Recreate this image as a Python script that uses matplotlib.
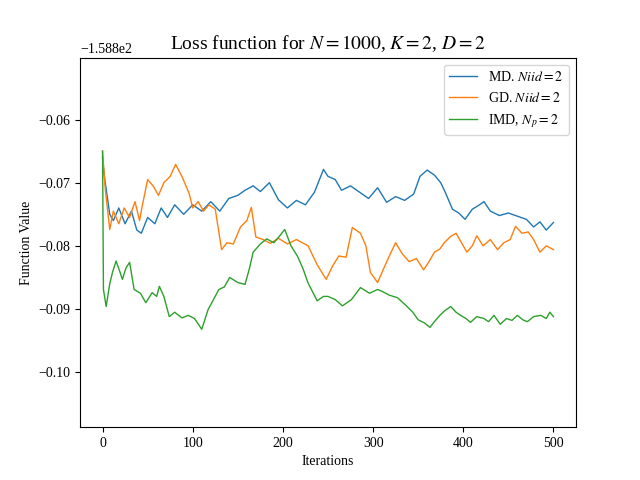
import matplotlib
matplotlib.use('Agg')
import matplotlib.pyplot as plt

OFFSET = -158.8

# iteration / value pairs (value relative to -158.8)
md_it = [0, 2, 5, 8, 12, 18, 25, 32, 38, 43, 50, 58, 65, 72, 80, 90, 100, 110, 120, 130, 140,
         150, 158, 167, 175, 185, 195, 205, 215, 225, 235, 245, 250, 258, 265, 275, 285, 295,
         305, 315, 325, 335, 345, 352, 360, 368, 375, 380, 388, 395, 402, 410, 418, 423, 430,
         440, 450, 460, 470, 478, 485, 492, 500]
md_val = [-0.066, -0.069, -0.072, -0.075, -0.076, -0.074, -0.0765, -0.0745, -0.0775, -0.078,
          -0.0755, -0.0765, -0.074, -0.0755, -0.0735, -0.075, -0.0735, -0.0745, -0.073, -0.0745,
          -0.0725, -0.072, -0.0712, -0.0705, -0.0714, -0.070, -0.0727, -0.074, -0.0728, -0.0735,
          -0.0715, -0.0679, -0.0690, -0.0695, -0.0712, -0.0705, -0.0715, -0.0725, -0.0708, -0.0731,
          -0.0722, -0.0728, -0.0718, -0.0690, -0.0680, -0.0688, -0.0700, -0.0715, -0.0742, -0.0748,
          -0.0758, -0.0742, -0.0735, -0.0730, -0.0745, -0.0752, -0.0748, -0.0753, -0.0758, -0.0770,
          -0.0762, -0.0775, -0.0763]

gd_it = [0, 3, 8, 12, 18, 24, 30, 36, 41, 44, 50, 56, 62, 68, 75, 81, 88, 96, 100, 106, 112,
         118, 125, 132, 138, 145, 153, 160, 165, 170, 178, 186, 195, 205, 215, 228, 238, 248,
         255, 262, 270, 277, 286, 292, 297, 305, 312, 318, 325, 332, 340, 348, 356, 362, 368,
         374, 379, 386, 392, 398, 404, 410, 415, 422, 430, 438, 445, 452, 458, 465, 472, 478,
         485, 492, 500]
gd_val = [-0.065, -0.071, -0.0774, -0.0745, -0.0765, -0.074, -0.0755, -0.073, -0.076, -0.0737,
          -0.0695, -0.0705, -0.072, -0.0700, -0.0690, -0.0671, -0.0690, -0.0717, -0.0740, -0.0730,
          -0.0745, -0.0735, -0.0742, -0.0806, -0.0795, -0.0797, -0.0770, -0.0760, -0.0739, -0.0786,
          -0.0790, -0.0796, -0.0788, -0.0797, -0.0790, -0.0800, -0.0830, -0.0853, -0.0832, -0.0816,
          -0.0818, -0.0771, -0.0780, -0.0800, -0.0842, -0.0858, -0.0835, -0.0816, -0.0795, -0.0812,
          -0.0825, -0.0820, -0.0838, -0.0825, -0.0810, -0.0805, -0.0795, -0.0785, -0.0780, -0.0795,
          -0.0810, -0.0800, -0.0784, -0.0800, -0.0790, -0.0806, -0.0795, -0.0790, -0.0769, -0.0780,
          -0.0778, -0.0790, -0.0810, -0.0800, -0.0806]

imd_it = [0, 1, 4, 8, 11, 15, 19, 22, 26, 30, 35, 42, 48, 55, 60, 63, 68, 74, 80, 88, 95, 102,
          110, 117, 123, 129, 135, 141, 150, 158, 163, 167, 175, 182, 190, 196, 202, 209, 216,
          222, 228, 238, 245, 250, 258, 266, 276, 286, 296, 305, 310, 318, 327, 337, 344, 350,
          357, 363, 368, 374, 380, 386, 392, 397, 403, 408, 415, 423, 428, 434, 441, 448, 454,
          460, 466, 471, 478, 486, 492, 496, 500]
imd_val = [-0.065, -0.0869, -0.0896, -0.0860, -0.0842, -0.0824, -0.0840, -0.0853, -0.0835, -0.0826,
           -0.0869, -0.0875, -0.0890, -0.0874, -0.0880, -0.0864, -0.0880, -0.0912, -0.0905, -0.0914,
           -0.0910, -0.0915, -0.0932, -0.0901, -0.0885, -0.0869, -0.0865, -0.0850, -0.0858, -0.0861,
           -0.0835, -0.0810, -0.0797, -0.0789, -0.0795, -0.0785, -0.0774, -0.0800, -0.0816, -0.0835,
           -0.0859, -0.0887, -0.0880, -0.0880, -0.0885, -0.0895, -0.0885, -0.0866, -0.0875, -0.0869,
           -0.0872, -0.0878, -0.0882, -0.0895, -0.0905, -0.0917, -0.0922, -0.0929, -0.0920, -0.0910,
           -0.0902, -0.0896, -0.0905, -0.0910, -0.0915, -0.0921, -0.0912, -0.0915, -0.0920, -0.0910,
           -0.0924, -0.0915, -0.0918, -0.0910, -0.0917, -0.0920, -0.0912, -0.0910, -0.0915, -0.0905,
           -0.0912]

plt.rcParams['font.family'] = ['Liberation Serif', 'DejaVu Serif']
plt.rcParams['mathtext.fontset'] = 'stix'

fig, ax = plt.subplots(figsize=(6.4, 4.8), dpi=100)
ax.plot(md_it, [OFFSET + v for v in md_val], color='#1f77b4', lw=1, label=r'MD. $Niid = 2$')
ax.plot(gd_it, [OFFSET + v for v in gd_val], color='#ff7f0e', lw=1, label=r'GD. $Niid = 2$')
ax.plot(imd_it, [OFFSET + v for v in imd_val], color='#2ca02c', lw=1, label=r'IMD, $N_p = 2$')

ax.set_ylim(OFFSET - 0.1087, OFFSET - 0.0502)
ax.set_xlim(-25, 525)
ax.ticklabel_format(axis='y', useOffset=OFFSET)
ax.set_title(r'Loss function for $N = 1000$, $K = 2$, $D = 2$', fontsize=14)
ax.set_xlabel('Iterations')
ax.set_ylabel('Function Value')
ax.legend(loc='upper right')

plt.savefig('out.png')
